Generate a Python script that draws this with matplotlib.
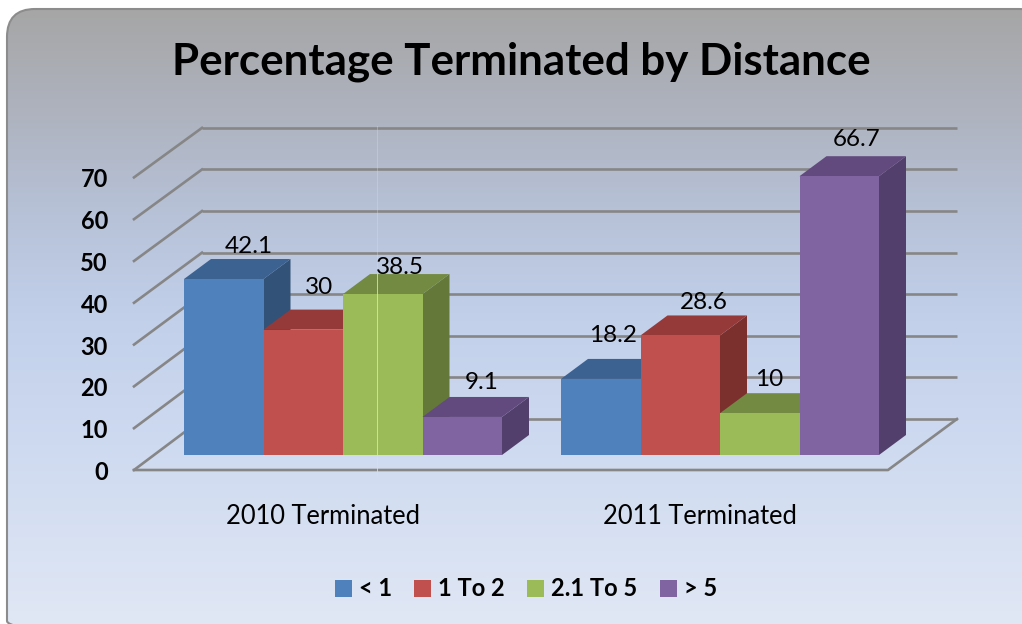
import numpy as np
import matplotlib
matplotlib.use("Agg")
import matplotlib.pyplot as plt
from matplotlib.colors import LinearSegmentedColormap
from matplotlib.patches import FancyBboxPatch, Patch

categories = ["2010 Terminated", "2011 Terminated"]
series_names = ["< 1", "1 To 2", "2.1 To 5", "> 5"]
lt_1 = [42.1, 18.2]
from_1_to_2 = [30, 28.6]
from_2_to_5 = [38.5, 10]
gt_5 = [9.1, 66.7]
value_labels = [["42.1", "18.2"], ["30", "28.6"], ["38.5", "10"], ["9.1", "66.7"]]
y_ticks = [0, 10, 20, 30, 40, 50, 60, 70]

series = [lt_1, from_1_to_2, from_2_to_5, gt_5]

# front, top, side shades
front_colors = ["#4F81BD", "#C0504D", "#9BBB59", "#8064A2"]
top_colors = ["#3C6292", "#953A38", "#728A42", "#624A7E"]
side_colors = ["#335278", "#7C302E", "#64783A", "#533F6C"]

plt.rcParams["font.family"] = ["Lato", "DejaVu Sans"]

PX = 4.18            # pixels per unit
BASE = 455           # pixel row of value 0 on the bar fronts
DEPTH_X = 27
DEPTH_Y = 20 / PX
GROUP_X = [184, 561]
BAR_W = 79.5
FLOOR_FRONT = -15 / PX
WALL_BACK = 36 / PX
WALL_SCALE = 0.995   # back wall is a touch shorter than the front edge
GRID = "#868686"

fig = plt.figure(figsize=(10.22, 6.24), dpi=100)

# panel behind the chart, in pixels
bg = fig.add_axes([0, 0, 1, 1])
bg.set_xlim(0, 1022)
bg.set_ylim(624, 0)
bg.axis("off")
cmap = LinearSegmentedColormap.from_list("panel", [(0, "#A6A6A6"), (0.17, "#AEB3BF"), (0.33, "#B7C2D8"),
                                                   (0.5, "#C2D0EA"), (0.7, "#CEDAF0"), (1, "#E1E8F5")])
img = bg.imshow(np.linspace(0, 1, 256).reshape(-1, 1), cmap=cmap, extent=[0, 1040, 632, 9], aspect="auto")
panel = FancyBboxPatch((7, 9), 1040, 640, boxstyle="round,pad=0,rounding_size=28",
                       facecolor="none", edgecolor="#8C8C8C", linewidth=1.5)
bg.add_patch(panel)
img.set_clip_path(panel)
bg.set_xlim(0, 1022)
bg.set_ylim(624, 0)

# chart, x in pixels and y in values
ax = fig.add_axes([0, 0, 1, 1])
ax.patch.set_visible(False)
ax.axis("off")
ax.set_xlim(0, 1022)
ax.set_ylim(-(624 - BASE) / PX, BASE / PX)

for t in y_ticks:
    back = t * WALL_SCALE + WALL_BACK
    ax.plot([202, 957], [back, back], color=GRID, lw=1.9, solid_capstyle="butt")
    ax.plot([134, 202], [t + FLOOR_FRONT, back], color=GRID, lw=1.9)
    ax.text(108, t + FLOOR_FRONT - 2.5 / PX, str(t), ha="right", va="center", fontsize=17, fontweight="bold", color="black")
ax.plot([134, 888, 957], [FLOOR_FRONT, FLOOR_FRONT, WALL_BACK], color=GRID, lw=1.9)

for g, x0 in enumerate(GROUP_X):
    for s, vals in enumerate(series):
        v = vals[g]
        x = x0 + s * BAR_W
        ax.fill([x + BAR_W, x + BAR_W + DEPTH_X, x + BAR_W + DEPTH_X, x + BAR_W],
                [0, DEPTH_Y, v + DEPTH_Y, v], color=side_colors[s], lw=0, zorder=3)
        ax.fill([x, x + DEPTH_X, x + BAR_W + DEPTH_X, x + BAR_W],
                [v, v + DEPTH_Y, v + DEPTH_Y, v], color=top_colors[s], lw=0, zorder=3)
        ax.bar(x, v, BAR_W, align="edge", color=front_colors[s], lw=0, zorder=3)

# thin light seam in the picture, strong over the bar and the floor line
ax.plot([376.5, 376.5], [-5, 70 + WALL_BACK], color="#D8DFEE", lw=0.7, alpha=0.35, zorder=5)
ax.plot([376.5, 376.5], [-5, 38.5 + DEPTH_Y], color="#D8DFEE", lw=0.7, alpha=0.7, zorder=5)

# label offsets from the front top centre of each bar, in pixels
nudge = [[(25, 33), (12, 43)], [(16, 42), (24, 33)], [(17, 27), (9, 34)], [(19, 34), (17, 37)]]
for g, x0 in enumerate(GROUP_X):
    for s, vals in enumerate(series):
        dx, dy = nudge[s][g]
        ax.text(x0 + (s + 0.5) * BAR_W + dx, vals[g] + dy / PX, value_labels[s][g],
                ha="center", va="center", fontsize=17.5, color="black", zorder=6)

for name, xc in zip(categories, [323, 700]):
    ax.text(xc, (BASE - 516) / PX, name, ha="center", va="center", fontsize=18.4, color="black")

ax.text(521, (BASE - 62) / PX, "Percentage Terminated by Distance", ha="center", va="center",
        fontsize=31.6, fontweight="bold", color="black")

handles = [Patch(facecolor=c, edgecolor="none") for c in front_colors]
ax.legend(handles, series_names, ncol=4, frameon=False, loc="center", bbox_to_anchor=(526 / 1022, 1 - 589 / 624),
          handlelength=0.72, handleheight=0.72, handletextpad=0.3, columnspacing=0.95,
          prop={"size": 17, "weight": "bold"})

fig.savefig("out.png", dpi=100)
